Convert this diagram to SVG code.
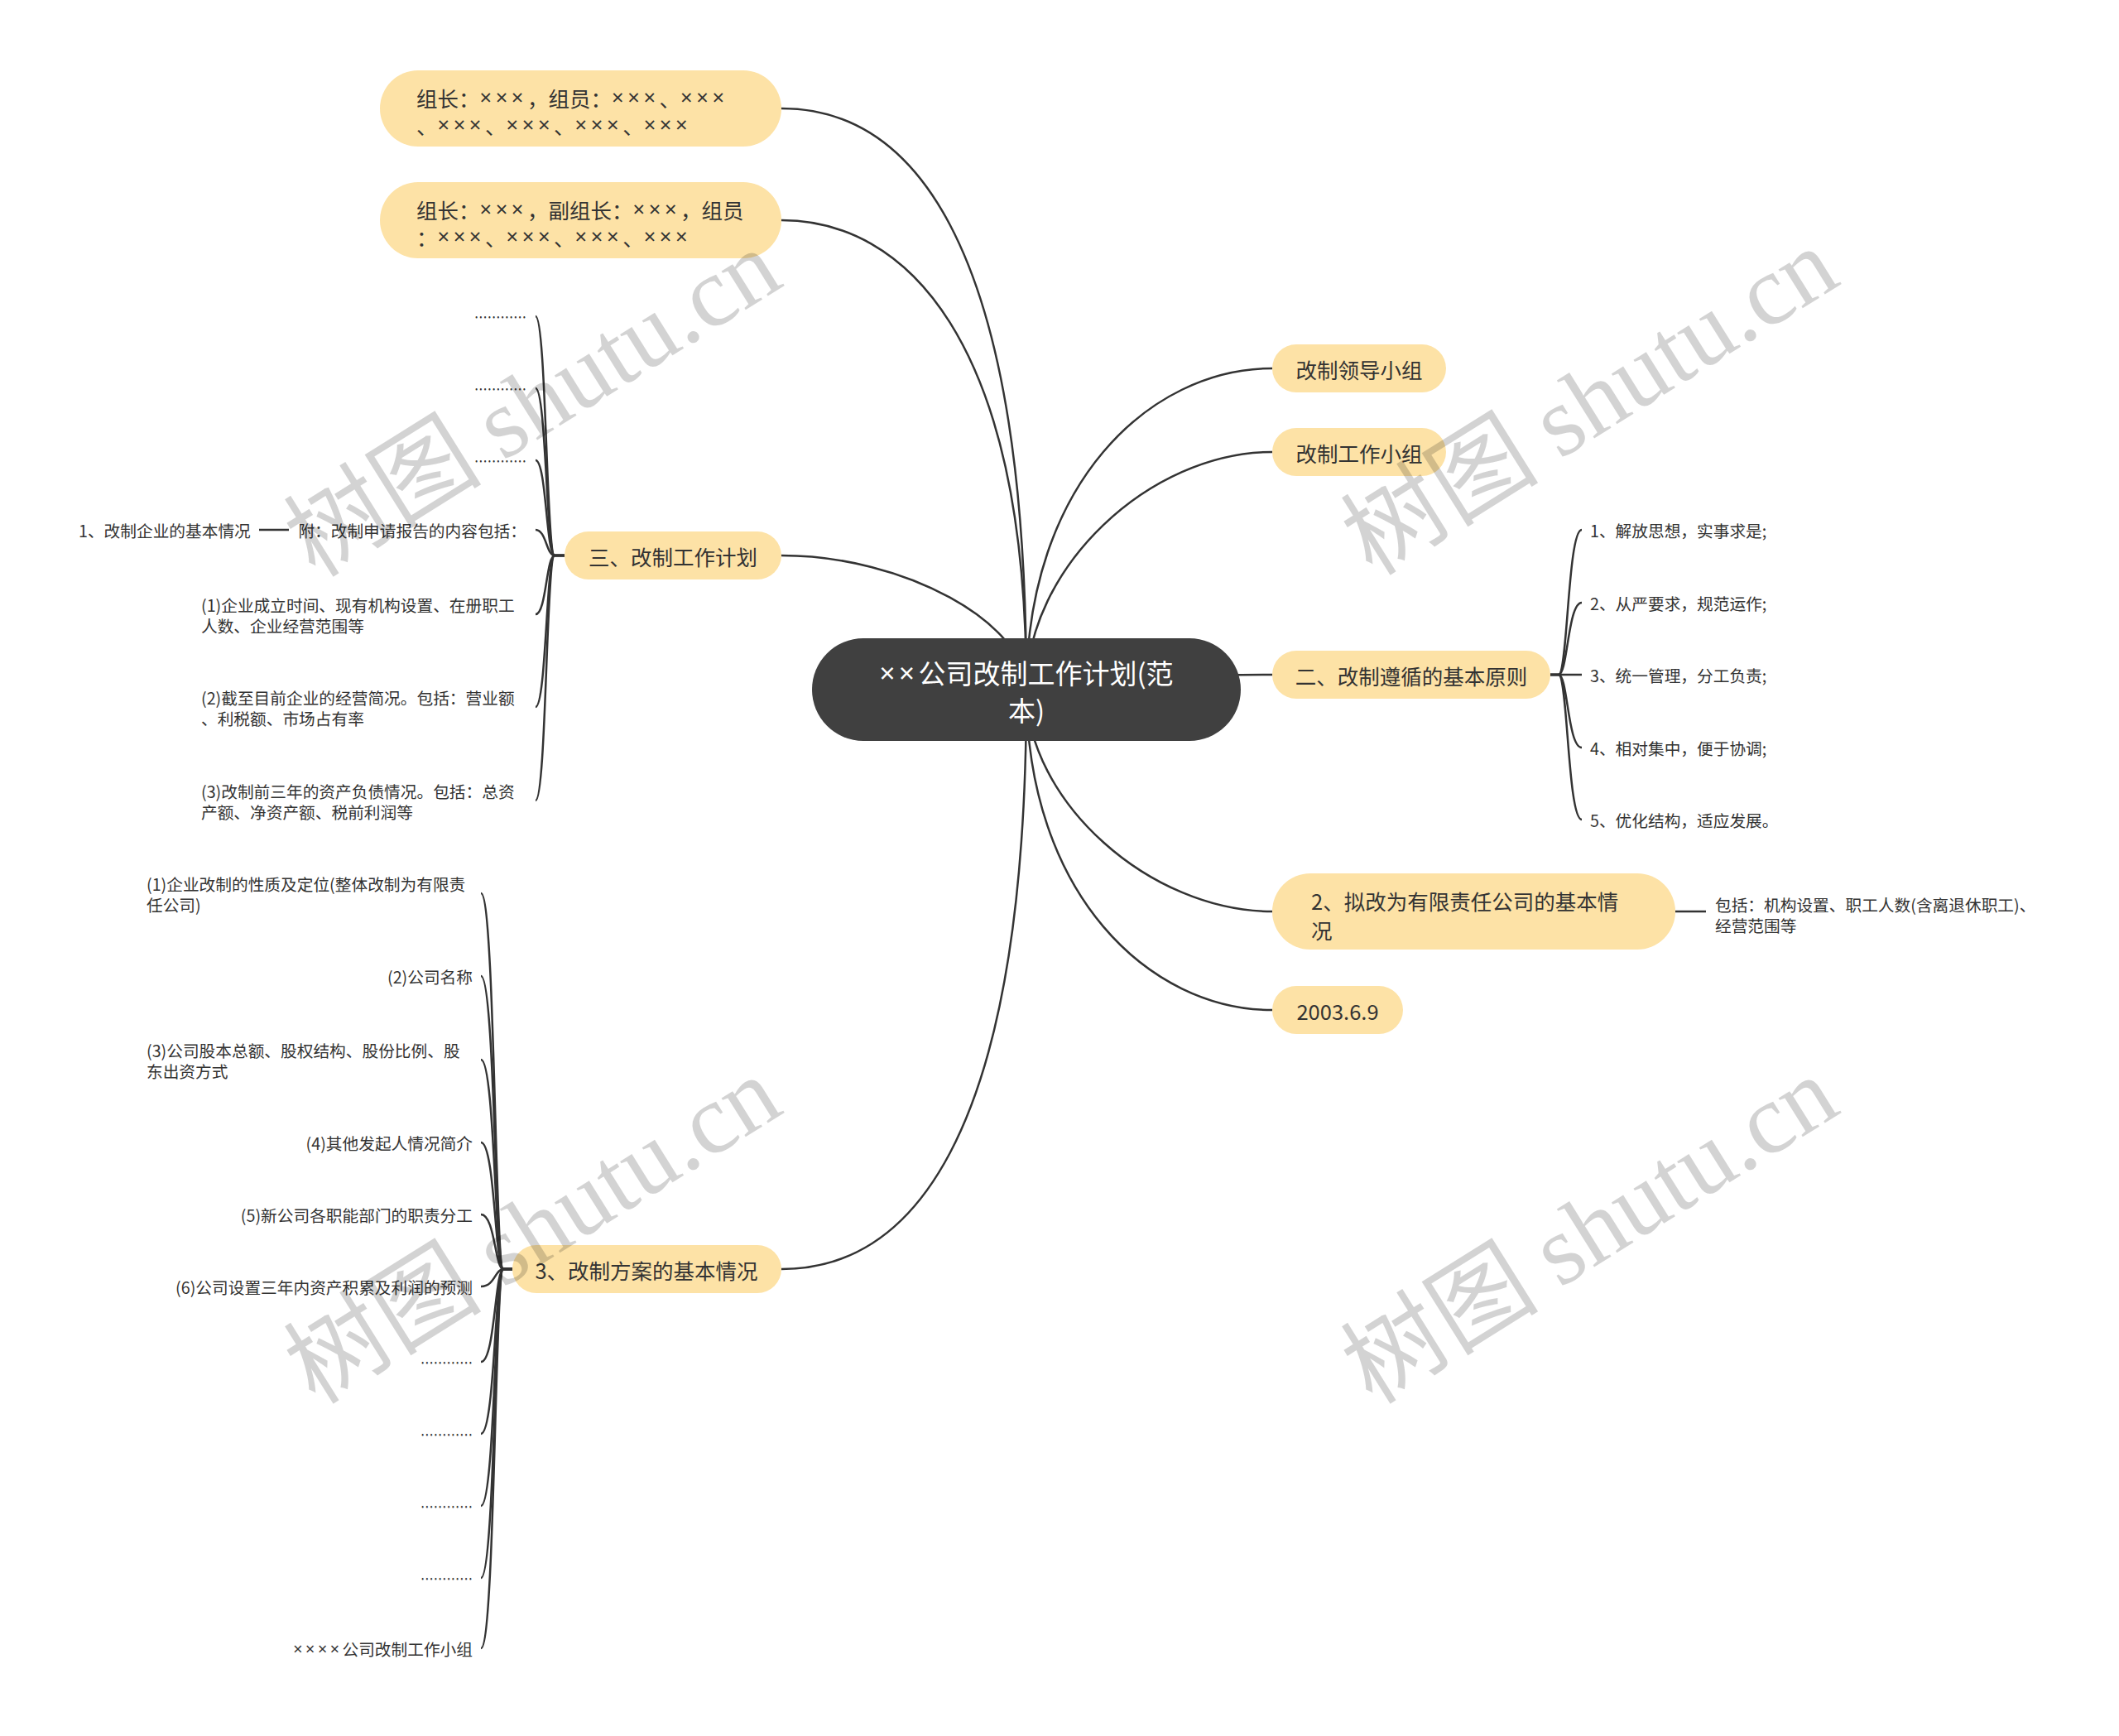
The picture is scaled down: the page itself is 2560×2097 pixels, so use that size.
<svg xmlns="http://www.w3.org/2000/svg" width="2560" height="2097" viewBox="0 0 2560 2097">
<style>
text{font-family:"Noto Sans CJK SC","Noto Sans",sans-serif;fill:#333;dominant-baseline:central}
.x{font-family:"Noto Sans","Noto Sans CJK SC",sans-serif;letter-spacing:.18em}
.x0{font-family:"Noto Sans","Noto Sans CJK SC",sans-serif;letter-spacing:.14em}
.n{fill:#fde2a6}
.c{fill:#404040}
.t0{font-size:33px;fill:#fff}
.t1{font-size:25.5px}
.t2{font-size:19.7px}
.lk{fill:none;stroke:#333;stroke-width:2.5}
.wm{font-size:120px;fill:#000;opacity:.17;dominant-baseline:alphabetic}
</style>
<rect width="2560" height="2097" fill="#fff"/>
<g id="connectors" class="lk">
<path d="M1240,833 C1240,271 1092,131 944,131"/>
<path d="M1240,833 C1240,406 1092,266 944,266"/>
<path d="M1240,833 C1240,752 1092,671 944,671"/>
<path d="M1240,833 C1240,1393 1092,1533 944,1533"/>
<path d="M1240,833 C1240,585 1388.5,445 1537,445"/>
<path d="M1240,833 C1240,686 1388.5,546 1537,546"/>
<path d="M1240,833 C1240,824 1388.5,815 1537,815"/>
<path d="M1240,833 C1240,967 1388.5,1101 1537,1101"/>
<path d="M1240,833 C1240,1080 1388.5,1220 1537,1220"/>
<path d="M682,671 H670 C660,671 660,382 647,382"/>
<path d="M682,671 H670 C660,671 660,469 647,469"/>
<path d="M682,671 H670 C660,671 660,556 647,556"/>
<path d="M682,671 H670 C660,671 660,640 647,640"/>
<path d="M682,671 H670 C660,671 660,742 647,742"/>
<path d="M682,671 H670 C660,671 660,854 647,854"/>
<path d="M682,671 H670 C660,671 660,967 647,967"/>
<path d="M619,1533 H608 C598,1533 598,1079 581,1079"/>
<path d="M619,1533 H608 C598,1533 598,1179 581,1179"/>
<path d="M619,1533 H608 C598,1533 598,1280 581,1280"/>
<path d="M619,1533 H608 C598,1533 598,1380 581,1380"/>
<path d="M619,1533 H608 C598,1533 598,1467 581,1467"/>
<path d="M619,1533 H608 C598,1533 598,1554 581,1554"/>
<path d="M619,1533 H608 C598,1533 598,1645 581,1645"/>
<path d="M619,1533 H608 C598,1533 598,1732 581,1732"/>
<path d="M619,1533 H608 C598,1533 598,1819 581,1819"/>
<path d="M619,1533 H608 C598,1533 598,1906 581,1906"/>
<path d="M619,1533 H608 C598,1533 598,1991 581,1991"/>
<path d="M1873,815 H1883 C1894,815 1894,640 1911,640"/>
<path d="M1873,815 H1883 C1894,815 1894,728 1911,728"/>
<path d="M1873,815 H1911"/>
<path d="M1873,815 H1883 C1894,815 1894,903 1911,903"/>
<path d="M1873,815 H1883 C1894,815 1894,990 1911,990"/>
<path d="M2024,1101 H2061"/>
<path d="M313,640 H349"/>
</g>
<g id="root"><rect class="c" x="981" y="771" width="518" height="124" rx="62"/><text class="t0" x="1240" y="812" text-anchor="middle"><tspan class="x0">××</tspan>公司改制工作计划(范</text><text class="t0" x="1240" y="857" text-anchor="middle">本)</text></g>
<g id="n-zuzhang1"><rect class="n" x="459" y="85" width="485" height="92" rx="46"/><text class="t1" x="503" y="117">组长：<tspan class="x">×××</tspan>，组员：<tspan class="x">×××</tspan>、<tspan class="x">×××</tspan></text><text class="t1" x="503" y="150">、<tspan class="x">×××</tspan>、<tspan class="x">×××</tspan>、<tspan class="x">×××</tspan>、<tspan class="x">×××</tspan></text></g>
<g id="n-zuzhang2"><rect class="n" x="459" y="220" width="485" height="92" rx="46"/><text class="t1" x="503" y="252">组长：<tspan class="x">×××</tspan>，副组长：<tspan class="x">×××</tspan>，组员</text><text class="t1" x="503" y="285">：<tspan class="x">×××</tspan>、<tspan class="x">×××</tspan>、<tspan class="x">×××</tspan>、<tspan class="x">×××</tspan></text></g>
<g id="n-plan"><rect class="n" x="682" y="642" width="262" height="58" rx="29"/><text class="t1" x="813" y="671" text-anchor="middle">三、改制工作计划</text></g>
<g id="n-scheme"><rect class="n" x="619" y="1504" width="325" height="58" rx="29"/><text class="t1" x="781" y="1533" text-anchor="middle">3、改制方案的基本情况</text></g>
<g id="n-lead"><rect class="n" x="1537" y="416" width="210" height="58" rx="29"/><text class="t1" x="1642" y="445" text-anchor="middle">改制领导小组</text></g>
<g id="n-work"><rect class="n" x="1537" y="517" width="210" height="58" rx="29"/><text class="t1" x="1642" y="546" text-anchor="middle">改制工作小组</text></g>
<g id="n-principle"><rect class="n" x="1537" y="786" width="336" height="58" rx="29"/><text class="t1" x="1705" y="815" text-anchor="middle">二、改制遵循的基本原则</text></g>
<g id="n-ltd"><rect class="n" x="1537" y="1055" width="487" height="92" rx="46"/><text class="t1" x="1584" y="1087">2、拟改为有限责任公司的基本情</text><text class="t1" x="1584" y="1122">况</text></g>
<g id="n-date"><rect class="n" x="1537" y="1191" width="158" height="58" rx="29"/><text class="t1" x="1616" y="1220" text-anchor="middle">2003.6.9</text></g>
<g id="n-principle-items">
<text class="t2" x="1921" y="640">1、解放思想，实事求是;</text>
<text class="t2" x="1921" y="728">2、从严要求，规范运作;</text>
<text class="t2" x="1921" y="815">3、统一管理，分工负责;</text>
<text class="t2" x="1921" y="903">4、相对集中，便于协调;</text>
<text class="t2" x="1921" y="990">5、优化结构，适应发展。</text>
</g>
<g id="n-ltd-detail"><text class="t2" x="2072" y="1092">包括：机构设置、职工人数(含离退休职工)、</text><text class="t2" x="2072" y="1117">经营范围等</text></g>
<g id="n-plan-items">
<text class="t2" x="636" y="382" text-anchor="end" textLength="63" lengthAdjust="spacingAndGlyphs">…………</text>
<text class="t2" x="636" y="469" text-anchor="end" textLength="63" lengthAdjust="spacingAndGlyphs">…………</text>
<text class="t2" x="636" y="556" text-anchor="end" textLength="63" lengthAdjust="spacingAndGlyphs">…………</text>
<text class="t2" x="636" y="640" text-anchor="end">附：改制申请报告的内容包括：</text>
<text class="t2" x="95" y="640">1、改制企业的基本情况</text>
<text class="t2" x="243" y="730">(1)企业成立时间、现有机构设置、在册职工</text>
<text class="t2" x="243" y="755">人数、企业经营范围等</text>
<text class="t2" x="243" y="842">(2)截至目前企业的经营简况。包括：营业额</text>
<text class="t2" x="243" y="867">、利税额、市场占有率</text>
<text class="t2" x="243" y="955">(3)改制前三年的资产负债情况。包括：总资</text>
<text class="t2" x="243" y="980">产额、净资产额、税前利润等</text>
</g>
<g id="n-scheme-items">
<text class="t2" x="177" y="1067">(1)企业改制的性质及定位(整体改制为有限责</text>
<text class="t2" x="177" y="1092">任公司)</text>
<text class="t2" x="571" y="1179" text-anchor="end">(2)公司名称</text>
<text class="t2" x="177" y="1268">(3)公司股本总额、股权结构、股份比例、股</text>
<text class="t2" x="177" y="1293">东出资方式</text>
<text class="t2" x="571" y="1380" text-anchor="end">(4)其他发起人情况简介</text>
<text class="t2" x="571" y="1467" text-anchor="end">(5)新公司各职能部门的职责分工</text>
<text class="t2" x="571" y="1554" text-anchor="end">(6)公司设置三年内资产积累及利润的预测</text>
<text class="t2" x="571" y="1645" text-anchor="end" textLength="63" lengthAdjust="spacingAndGlyphs">…………</text>
<text class="t2" x="571" y="1732" text-anchor="end" textLength="63" lengthAdjust="spacingAndGlyphs">…………</text>
<text class="t2" x="571" y="1819" text-anchor="end" textLength="63" lengthAdjust="spacingAndGlyphs">…………</text>
<text class="t2" x="571" y="1906" text-anchor="end" textLength="63" lengthAdjust="spacingAndGlyphs">…………</text>
<text class="t2" x="571" y="1991" text-anchor="end"><tspan class="x">××××</tspan>公司改制工作小组</text>
</g>
<g id="watermarks">
<text class="wm" transform="translate(381,699) rotate(-32)">树图 <tspan font-family="Liberation Serif">shutu.cn</tspan></text>
<text class="wm" transform="translate(1658,697) rotate(-32)">树图 <tspan font-family="Liberation Serif">shutu.cn</tspan></text>
<text class="wm" transform="translate(381,1698) rotate(-32)">树图 <tspan font-family="Liberation Serif">shutu.cn</tspan></text>
<text class="wm" transform="translate(1658,1698) rotate(-32)">树图 <tspan font-family="Liberation Serif">shutu.cn</tspan></text>
</g>
</svg>
